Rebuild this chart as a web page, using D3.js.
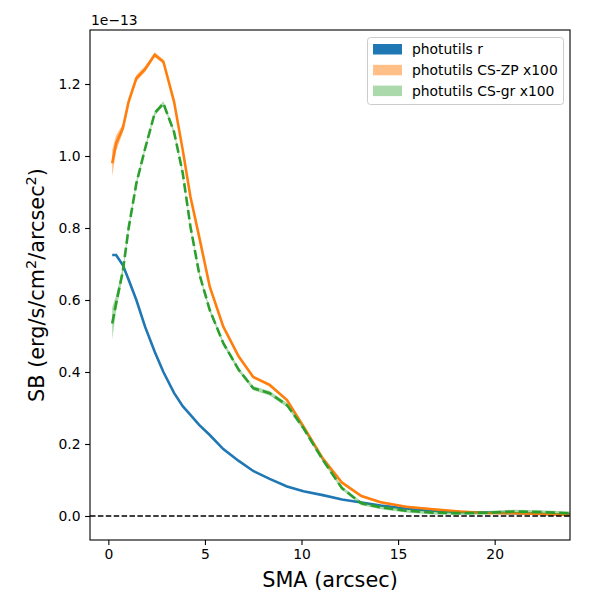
<!DOCTYPE html>
<html>
<head>
<meta charset="utf-8">
<script src="https://cdn.jsdelivr.net/npm/d3@7"></script>
<style>
  body { margin: 0; background: #fff; }
  text { font-family: "DejaVu Sans", sans-serif; }
</style>
</head>
<body>
<svg id="chart" width="600" height="600"></svg>
<script>
/* ------------------------- DATA (SB in units of 1e-13) ------------------------- */

const sma = [0.2, 0.4, 0.75, 1.05, 1.45, 1.9, 2.4, 2.85, 3.4, 3.85, 4.25, 4.7, 5.25, 5.95, 6.75,
             7.5, 8.35, 9.25, 10.1, 11.1, 12.1, 13.1, 14.1, 15.4, 16.8, 18.2, 19.6, 21.0, 22.4, 23.9]

const sbR = [0.725, 0.725, 0.697, 0.656, 0.600, 0.526, 0.456, 0.400, 0.342, 0.305, 0.281, 0.253, 0.225, 0.186, 0.153,
             0.125, 0.103, 0.082, 0.069, 0.058, 0.046, 0.0375, 0.029, 0.021, 0.0147, 0.011, 0.0097, 0.0075, 0.0056, 0.003]

const sbZP = [0.980, 1.035, 1.077, 1.151, 1.216, 1.241, 1.281, 1.262, 1.151, 1.017, 0.887, 0.776, 0.637, 0.526, 0.443,
              0.386, 0.364, 0.322, 0.249, 0.160, 0.0925, 0.0556, 0.038, 0.0258, 0.0186, 0.0125, 0.0083, 0.0075, 0.0056, 0.003]
const errZP = [0.036, 0.022, 0.012, 0.009, 0.009, 0.008, 0.007, 0.006, 0.005, 0.005, 0.005, 0.004, 0.004, 0.004, 0.004,
               0.004, 0.004, 0.004, 0.004, 0.003, 0.003, 0.003, 0.003, 0.003, 0.003, 0.003, 0.003, 0.003, 0.003, 0.003]

const sbGR = [0.535, 0.590, 0.680, 0.800, 0.924, 1.020, 1.119, 1.146, 1.067, 0.953, 0.804, 0.674, 0.572, 0.480, 0.406,
              0.355, 0.341, 0.308, 0.244, 0.156, 0.077, 0.035, 0.024, 0.0147, 0.0092, 0.0075, 0.0092, 0.0125, 0.011, 0.0075]
const errGR = [0.044, 0.022, 0.013, 0.008, 0.007, 0.007, 0.007, 0.006, 0.006, 0.006, 0.006, 0.006, 0.006, 0.006, 0.006,
               0.006, 0.006, 0.006, 0.006, 0.005, 0.005, 0.005, 0.005, 0.005, 0.005, 0.005, 0.005, 0.005, 0.005, 0.005]

const xTicks = [0, 5, 10, 15, 20]
const yTicks = [0.0, 0.2, 0.4, 0.6, 0.8, 1.0, 1.2]

const legendLabels = ["photutils r", "photutils CS-ZP x100", "photutils CS-gr x100"]

/* ------------------------- SETUP ------------------------- */

const svg = d3.select("#chart")
const W = 600, H = 600
const margin = { top: 30, right: 30, bottom: 60, left: 90 }

const x = d3.scaleLinear().domain([-0.95, 23.9]).range([margin.left, W - margin.right])
const y = d3.scaleLinear().domain([-0.0667, 1.35]).range([H - margin.bottom, margin.top])

const series = [
    { vals: sbR, err: null, color: "#1f77b4", alpha: 1, dash: null },
    { vals: sbZP, err: errZP, color: "#ff7f0e", alpha: 0.5, dash: null },
    { vals: sbGR, err: errGR, color: "#2ca02c", alpha: 0.4, dash: "9.5,4" }
]

svg.append("defs").append("clipPath").attr("id", "clip")
    .append("rect")
    .attr("x", margin.left).attr("y", margin.top)
    .attr("width", W - margin.left - margin.right)
    .attr("height", H - margin.top - margin.bottom)

const plot = svg.append("g").attr("clip-path", "url(#clip)")

/* ------------------------- BANDS + LINES ------------------------- */

series.forEach(function (s) {
    if (s.err) {
        let area = d3.area()
            .x(function (d, i) { return x(sma[i]) })
            .y0(function (d, i) { return y(d - s.err[i]) })
            .y1(function (d, i) { return y(d + s.err[i]) })
        plot.append("path")
            .attr("d", area(s.vals))
            .attr("fill", s.color)
            .attr("fill-opacity", s.alpha)
    }
    let line = d3.line()
        .x(function (d, i) { return x(sma[i]) })
        .y(function (d) { return y(d) })
    plot.append("path")
        .attr("d", line(s.vals))
        .attr("fill", "none")
        .attr("stroke", s.color)
        .attr("stroke-width", 2.6)
        .attr("stroke-dasharray", s.dash)
})

// zero line
plot.append("line")
    .attr("x1", margin.left).attr("x2", W - margin.right)
    .attr("y1", y(0)).attr("y2", y(0))
    .attr("stroke", "#000")
    .attr("stroke-width", 1.6)
    .attr("stroke-dasharray", "5.5,2.4")

/* ------------------------- AXES ------------------------- */

const xAxis = svg.append("g")
    .attr("transform", "translate(0," + (H - margin.bottom) + ")")
    .call(d3.axisBottom(x).tickValues(xTicks).tickSize(4.9).tickPadding(4.5).tickFormat(d3.format("d")))
const yAxis = svg.append("g")
    .attr("transform", "translate(" + margin.left + ",0)")
    .call(d3.axisLeft(y).tickValues(yTicks).tickSize(4.9).tickPadding(4.5).tickFormat(d3.format(".1f")))

;[xAxis, yAxis].forEach(function (a) {
    a.select(".domain").remove()
    a.selectAll(".tick line").attr("stroke", "#000").attr("stroke-width", 1.1)
    a.selectAll(".tick text").attr("font-size", 13.9).attr("fill", "#000")
        .style("font-family", "DejaVu Sans")
})

svg.append("rect")
    .attr("x", margin.left).attr("y", margin.top)
    .attr("width", W - margin.left - margin.right)
    .attr("height", H - margin.top - margin.bottom)
    .attr("fill", "none").attr("stroke", "#000").attr("stroke-width", 1.1)

svg.append("text")
    .attr("x", margin.left + 1).attr("y", 25)
    .attr("font-size", 13.9)
    .text("1e\u221213")

svg.append("text")
    .attr("x", (margin.left + W - margin.right) / 2).attr("y", 587)
    .attr("text-anchor", "middle")
    .attr("font-size", 20.8)
    .text("SMA (arcsec)")

const yl = svg.append("text")
    .attr("transform", "translate(44," + ((margin.top + H - margin.bottom) / 2) + ") rotate(-90)")
    .attr("text-anchor", "middle")
    .attr("font-size", 20.8)
yl.append("tspan").text("SB (erg/s/cm")
yl.append("tspan").attr("font-size", 14.5).attr("dy", -8).text("2")
yl.append("tspan").attr("dy", 8).text("/arcsec")
yl.append("tspan").attr("font-size", 14.5).attr("dy", -8).text("2")
yl.append("tspan").attr("dy", 8).text(")")

/* ------------------------- LEGEND ------------------------- */

const leg = svg.append("g")
leg.append("rect")
    .attr("x", 367.5).attr("y", 37.5).attr("width", 196).attr("height", 67).attr("rx", 3)
    .attr("fill", "#fff").attr("fill-opacity", 0.8)
    .attr("stroke", "#ccc").attr("stroke-width", 1)

legendLabels.forEach(function (lab, i) {
    let cy = 49 + i * 20.8
    leg.append("rect")
        .attr("x", 373).attr("y", cy - 5).attr("width", 29).attr("height", 10.5)
        .attr("fill", series[i].color).attr("fill-opacity", series[i].alpha)
    leg.append("text")
        .attr("x", 412).attr("y", cy + 5)
        .attr("font-size", 13.9)
        .text(lab)
})
</script>
</body>
</html>
